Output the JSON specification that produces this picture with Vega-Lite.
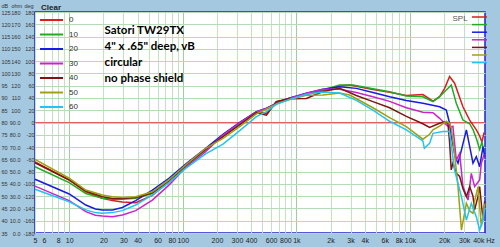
{
"$schema": "https://vega.github.io/schema/vega-lite/v6.json",
"width": 450, "height": 221,
"autosize": {"type": "none"},
"padding": {"left": 35, "top": 12, "right": 15, "bottom": 14},
"background": "#a5c8e1",
"config": {"view": {"fill": "white", "stroke": "#2020d0", "strokeWidth": 1.5}, "font": "Liberation Sans"},
"title": {"text": "Clear", "anchor": "start", "orient": "top", "offset": -9, "fontSize": 8, "fontWeight": "bold", "color": "#222222", "dx": 40},
"datasets": {
"ref": [{"phase0": 80}],
"note": [{"txt": "Satori TW29TX\n4\" x .65\" deep, vB\ncircular\nno phase shield"}],
"curves": [
{"s":"0","f":5,"db":64.0},{"s":"0","f":10,"db":56.6},{"s":"0","f":14,"db":51.8},{"s":"0","f":19.6,"db":49.1},{"s":"0","f":24,"db":48.2},{"s":"0","f":29.4,"db":47.6},{"s":"0","f":38.5,"db":47.3},{"s":"0","f":54,"db":50.3},{"s":"0","f":75.5,"db":55.9},{"s":"0","f":106,"db":62.3},{"s":"0","f":159,"db":68.8},{"s":"0","f":226,"db":75.0},{"s":"0","f":317,"db":79.7},{"s":"0","f":445,"db":84.4},{"s":"0","f":545,"db":83.7},{"s":"0","f":667,"db":88.5},{"s":"0","f":873,"db":89.9},{"s":"0","f":1224,"db":91.4},{"s":"0","f":1715,"db":93.0},{"s":"0","f":2404,"db":94.9},{"s":"0","f":2945,"db":95.3},{"s":"0","f":4723,"db":93.4},{"s":"0","f":6625,"db":92.3},{"s":"0","f":9295,"db":91.0},{"s":"0","f":13000,"db":91.4},{"s":"0","f":15950,"db":88.7},{"s":"0","f":18250,"db":90.5},{"s":"0","f":20200,"db":93.9},{"s":"0","f":22340,"db":98.7},{"s":"0","f":24730,"db":96.0},{"s":"0","f":29280,"db":86.4},{"s":"0","f":33560,"db":81.0},{"s":"0","f":35880,"db":79.0},{"s":"0","f":38440,"db":77.0},{"s":"0","f":41100,"db":74.5},{"s":"0","f":43000,"db":72.0},{"s":"0","f":45000,"db":76.0},
{"s":"10","f":5,"db":62.0},{"s":"10","f":10,"db":55.5},{"s":"10","f":14,"db":51.1},{"s":"10","f":19.6,"db":49.1},{"s":"10","f":24,"db":48.7},{"s":"10","f":29.4,"db":48.7},{"s":"10","f":38.5,"db":49.1},{"s":"10","f":54,"db":51.1},{"s":"10","f":75.5,"db":55.9},{"s":"10","f":106,"db":62.3},{"s":"10","f":159,"db":68.8},{"s":"10","f":226,"db":74.5},{"s":"10","f":317,"db":79.4},{"s":"10","f":445,"db":84.0},{"s":"10","f":545,"db":85.6},{"s":"10","f":667,"db":87.8},{"s":"10","f":873,"db":89.7},{"s":"10","f":1224,"db":91.6},{"s":"10","f":1715,"db":93.2},{"s":"10","f":2404,"db":95.3},{"s":"10","f":3148,"db":95.3},{"s":"10","f":4723,"db":93.7},{"s":"10","f":6625,"db":92.5},{"s":"10","f":9295,"db":90.8},{"s":"10","f":13000,"db":90.5},{"s":"10","f":15950,"db":88.5},{"s":"10","f":18250,"db":90.5},{"s":"10","f":20900,"db":93.2},{"s":"10","f":23120,"db":95.3},{"s":"10","f":25590,"db":87.8},{"s":"10","f":29280,"db":81.0},{"s":"10","f":33560,"db":79.5},{"s":"10","f":36000,"db":77.0},{"s":"10","f":38440,"db":73.5},{"s":"10","f":41100,"db":69.0},{"s":"10","f":43000,"db":72.0},{"s":"10","f":45000,"db":68.0},
{"s":"20","f":5,"db":56.9},{"s":"20","f":10,"db":50.9},{"s":"20","f":14,"db":46.4},{"s":"20","f":17,"db":44.8},{"s":"20","f":19.6,"db":44.4},{"s":"20","f":24,"db":44.4},{"s":"20","f":29.4,"db":45.4},{"s":"20","f":38.5,"db":48.2},{"s":"20","f":54,"db":52.5},{"s":"20","f":75.5,"db":57.3},{"s":"20","f":106,"db":63.1},{"s":"20","f":159,"db":69.5},{"s":"20","f":226,"db":75.2},{"s":"20","f":317,"db":80.1},{"s":"20","f":445,"db":84.4},{"s":"20","f":545,"db":85.8},{"s":"20","f":667,"db":87.8},{"s":"20","f":873,"db":90.0},{"s":"20","f":1224,"db":91.9},{"s":"20","f":1715,"db":93.5},{"s":"20","f":2404,"db":94.6},{"s":"20","f":3373,"db":93.9},{"s":"20","f":4723,"db":92.2},{"s":"20","f":6625,"db":90.5},{"s":"20","f":9295,"db":89.0},{"s":"20","f":13000,"db":87.8},{"s":"20","f":18250,"db":86.4},{"s":"20","f":20900,"db":85.1},{"s":"20","f":22340,"db":79.7},{"s":"20","f":23120,"db":74.2},{"s":"20","f":23920,"db":71.0},{"s":"20","f":25000,"db":66.0},{"s":"20","f":26500,"db":63.4},{"s":"20","f":28400,"db":68.8},{"s":"20","f":31400,"db":77.0},{"s":"20","f":33600,"db":70.2},{"s":"20","f":35900,"db":63.4},{"s":"20","f":38400,"db":66.1},{"s":"20","f":41100,"db":62.0},{"s":"20","f":44000,"db":70.2},{"s":"20","f":45500,"db":66.0},
{"s":"30","f":5,"db":54.1},{"s":"30","f":10,"db":48.2},{"s":"30","f":14,"db":43.7},{"s":"30","f":17,"db":42.2},{"s":"30","f":19.6,"db":41.9},{"s":"30","f":24,"db":41.6},{"s":"30","f":29.4,"db":42.3},{"s":"30","f":38.5,"db":44.1},{"s":"30","f":54,"db":48.4},{"s":"30","f":75.5,"db":54.5},{"s":"30","f":106,"db":61.7},{"s":"30","f":159,"db":68.1},{"s":"30","f":226,"db":74.9},{"s":"30","f":317,"db":79.9},{"s":"30","f":445,"db":84.3},{"s":"30","f":545,"db":85.7},{"s":"30","f":667,"db":87.8},{"s":"30","f":873,"db":89.8},{"s":"30","f":1224,"db":91.9},{"s":"30","f":1715,"db":93.5},{"s":"30","f":2404,"db":93.5},{"s":"30","f":3373,"db":92.2},{"s":"30","f":4723,"db":90.5},{"s":"30","f":6625,"db":88.6},{"s":"30","f":9295,"db":86.0},{"s":"30","f":13000,"db":84.2},{"s":"30","f":15950,"db":84.0},{"s":"30","f":18250,"db":81.7},{"s":"30","f":20900,"db":79.0},{"s":"30","f":22340,"db":78.0},{"s":"30","f":23900,"db":78.5},{"s":"30","f":25600,"db":64.7},{"s":"30","f":27400,"db":67.4},{"s":"30","f":29300,"db":53.9},{"s":"30","f":32500,"db":48.4},{"s":"30","f":34700,"db":59.3},{"s":"30","f":37100,"db":53.9},{"s":"30","f":41100,"db":56.6},{"s":"30","f":42500,"db":63.4},{"s":"30","f":45000,"db":67.0},
{"s":"40","f":5,"db":63.6},{"s":"40","f":10,"db":56.6},{"s":"40","f":14,"db":52.1},{"s":"40","f":19.6,"db":49.8},{"s":"40","f":24,"db":49.1},{"s":"40","f":29.4,"db":49.0},{"s":"40","f":38.5,"db":49.5},{"s":"40","f":54,"db":51.4},{"s":"40","f":75.5,"db":56.3},{"s":"40","f":106,"db":62.5},{"s":"40","f":159,"db":69.1},{"s":"40","f":226,"db":74.2},{"s":"40","f":317,"db":79.0},{"s":"40","f":445,"db":84.0},{"s":"40","f":545,"db":83.0},{"s":"40","f":667,"db":88.5},{"s":"40","f":873,"db":89.7},{"s":"40","f":1224,"db":89.8},{"s":"40","f":1715,"db":92.6},{"s":"40","f":2404,"db":93.9},{"s":"40","f":3373,"db":91.0},{"s":"40","f":4723,"db":88.5},{"s":"40","f":6625,"db":86.0},{"s":"40","f":9295,"db":82.5},{"s":"40","f":13000,"db":79.5},{"s":"40","f":14900,"db":78.0},{"s":"40","f":18250,"db":79.7},{"s":"40","f":20200,"db":80.3},{"s":"40","f":21600,"db":79.7},{"s":"40","f":22340,"db":72.0},{"s":"40","f":23100,"db":60.7},{"s":"40","f":23900,"db":63.4},{"s":"40","f":25600,"db":59.3},{"s":"40","f":27400,"db":58.0},{"s":"40","f":29300,"db":53.0},{"s":"40","f":31400,"db":49.8},{"s":"40","f":33600,"db":53.9},{"s":"40","f":35900,"db":50.0},{"s":"40","f":37100,"db":44.4},{"s":"40","f":39800,"db":50.0},{"s":"40","f":41100,"db":53.9},{"s":"40","f":44000,"db":40.3},{"s":"40","f":45500,"db":48.0},
{"s":"50","f":5,"db":65.0},{"s":"50","f":10,"db":57.3},{"s":"50","f":14,"db":52.5},{"s":"50","f":19.6,"db":50.5},{"s":"50","f":24,"db":49.8},{"s":"50","f":29.4,"db":49.5},{"s":"50","f":38.5,"db":49.8},{"s":"50","f":54,"db":51.8},{"s":"50","f":75.5,"db":56.6},{"s":"50","f":106,"db":62.7},{"s":"50","f":159,"db":69.5},{"s":"50","f":226,"db":73.5},{"s":"50","f":317,"db":78.3},{"s":"50","f":445,"db":83.5},{"s":"50","f":545,"db":85.4},{"s":"50","f":667,"db":87.6},{"s":"50","f":873,"db":89.4},{"s":"50","f":1224,"db":91.1},{"s":"50","f":1715,"db":91.2},{"s":"50","f":2404,"db":92.0},{"s":"50","f":2945,"db":91.2},{"s":"50","f":4723,"db":86.0},{"s":"50","f":6625,"db":82.0},{"s":"50","f":9295,"db":78.3},{"s":"50","f":13000,"db":73.2},{"s":"50","f":14900,"db":75.2},{"s":"50","f":15950,"db":77.0},{"s":"50","f":18250,"db":78.5},{"s":"50","f":20900,"db":80.5},{"s":"50","f":22340,"db":79.7},{"s":"50","f":23100,"db":78.0},{"s":"50","f":24700,"db":67.4},{"s":"50","f":26500,"db":53.9},{"s":"50","f":28400,"db":36.2},{"s":"50","f":31400,"db":47.1},{"s":"50","f":33600,"db":44.0},{"s":"50","f":35900,"db":43.0},{"s":"50","f":37100,"db":48.0},{"s":"50","f":39800,"db":53.9},{"s":"50","f":42500,"db":37.6},{"s":"50","f":45500,"db":47.0},
{"s":"60","f":5,"db":52.8},{"s":"60","f":10,"db":47.7},{"s":"60","f":14,"db":44.4},{"s":"60","f":17,"db":43.3},{"s":"60","f":19.6,"db":43.0},{"s":"60","f":24,"db":43.3},{"s":"60","f":29.4,"db":44.1},{"s":"60","f":38.5,"db":46.4},{"s":"60","f":54,"db":50.5},{"s":"60","f":75.5,"db":55.5},{"s":"60","f":106,"db":61.3},{"s":"60","f":159,"db":67.2},{"s":"60","f":226,"db":71.2},{"s":"60","f":317,"db":76.7},{"s":"60","f":445,"db":82.4},{"s":"60","f":545,"db":84.4},{"s":"60","f":667,"db":87.4},{"s":"60","f":873,"db":89.4},{"s":"60","f":1224,"db":91.5},{"s":"60","f":1715,"db":92.4},{"s":"60","f":2404,"db":92.0},{"s":"60","f":3373,"db":89.0},{"s":"60","f":4723,"db":85.0},{"s":"60","f":6625,"db":80.5},{"s":"60","f":9295,"db":77.0},{"s":"60","f":13000,"db":72.5},{"s":"60","f":13400,"db":69.5},{"s":"60","f":14900,"db":71.5},{"s":"60","f":15950,"db":75.6},{"s":"60","f":19500,"db":76.3},{"s":"60","f":22300,"db":76.3},{"s":"60","f":24700,"db":60.7},{"s":"60","f":28400,"db":49.8},{"s":"60","f":31400,"db":40.3},{"s":"60","f":34700,"db":47.1},{"s":"60","f":38400,"db":41.6},{"s":"60","f":41100,"db":36.2},{"s":"60","f":44000,"db":40.3},{"s":"60","f":45500,"db":45.0}
]},
"layer": [
{"data": {"name": "ref"},
 "mark": {"type": "rule", "color": "#e06060", "strokeWidth": 1},
 "encoding": {"y": {"field": "phase0", "type": "quantitative", "scale": {"domain": [35, 125], "nice": false, "zero": false},
   "axis": {"orient": "left", "values": [35,40,45,50,55,60,65,70,75,80,85,90,95,100,105,110,115,120,125], "labelExpr": "(datum.value-80)*4 + ''", "title": "deg", "titleAngle": 0, "titleX": -11, "titleY": -7, "titleAlign": "left", "titleBaseline": "middle", "titleFontSize": 5.5, "titleFontWeight": "normal", "titleColor": "#333333", "labelAlign": "right", "labelBaseline": "middle", "labelPadding": 1, "ticks": false, "tickSize": 0, "domain": false, "grid": false, "labelFontSize": 5.5, "labelColor": "#333333", "labelOverlap": false, "labelBound": false, "labelFlush": false}}}},
{"data": {"name": "curves"},
 "mark": {"type": "line", "strokeWidth": 1.5},
 "encoding": {
  "x": {"field": "f", "type": "quantitative", "scale": {"type": "log", "domain": [5, 45800], "nice": false},
   "axis": {"values": [5,6,7,8,9,10,20,30,40,50,60,70,80,90,100,200,300,400,500,600,700,800,900,1000,2000,3000,4000,5000,6000,7000,8000,9000,10000,20000,30000,40000],
     "labelExpr": "indexof([7,9,50,70,90,500,700,900,5000,7000,9000], datum.value) >= 0 ? '' : (datum.value >= 1000 ? (datum.value/1000) + 'k' : datum.value + '')",
     "title": "Hz", "titleX": 455, "titleY": 3, "titleAlign": "center", "titleBaseline": "top", "titleFontSize": 7, "titleFontWeight": "normal", "titleColor": "#222222",
     "ticks": false, "tickSize": 0, "domain": false, "labelFontSize": 7, "labelPadding": 3, "labelColor": "#222222", "labelFlush": false, "labelOverlap": false, "labelBound": false,
     "grid": true, "gridColor": {"condition": {"test": "indexof([10,100,1000,10000], datum.value) >= 0", "value": "#9ccf9c"}, "value": "#c2e3c2"}, "gridWidth": 1}},
  "y": {"field": "db", "type": "quantitative", "scale": {"domain": [35, 125], "nice": false, "zero": false},
   "axis": {"orient": "left", "values": [35,40,45,50,55,60,65,70,75,80,85,90,95,100,105,110,115,120,125], "title": "dB", "titleAngle": 0, "titleX": -34, "titleY": -7, "titleAlign": "left", "titleBaseline": "middle", "titleFontSize": 5.5, "titleFontWeight": "normal", "titleColor": "#333333", "labelAlign": "left", "labelBaseline": "middle", "labelPadding": 34, "ticks": false, "tickSize": 0, "domain": false, "labelFontSize": 5.5, "labelColor": "#333333", "labelOverlap": false, "labelBound": false, "labelFlush": false, "grid": true, "gridColor": "#b5dcb5", "gridWidth": 1}},
  "color": {"field": "s", "type": "nominal", "scale": {"domain": ["0","10","20","30","40","50","60"], "range": ["#dd1c1c","#22aa22","#1a1ae6","#cc22cc","#801414","#a0a010","#22c4f2"]},
   "legend": {"title": null, "orient": "none", "legendX": 10.5, "legendY": 2, "symbolType": "M-2.3,0H2.3", "symbolSize": 100, "symbolStrokeWidth": 2, "rowPadding": 4.5, "labelFontSize": 8, "labelColor": "#333333", "labelOffset": 11.5, "padding": 0}}
 }},
{"data": {"name": "note"},
 "mark": {"type": "text", "align": "left", "baseline": "top", "lineBreak": "\n", "lineHeight": 16, "font": "Lato", "fontWeight": "bold", "fontSize": 11.5, "color": "#000000"},
 "encoding": {"x": {"datum": 20.5, "type": "quantitative"}, "y": {"datum": 119.7, "type": "quantitative", "axis": null}, "text": {"field": "txt"}}},
{"data": {"name": "curves"},
 "transform": [{"filter": "datum.db < 0"}, {"calculate": "'spl' + datum.s", "as": "spl"}],
 "mark": {"type": "line", "strokeWidth": 1.5},
 "encoding": {
  "x": {"field": "f", "type": "quantitative"},
  "y": {"field": "db", "type": "quantitative",
   "axis": {"orient": "left", "values": [35,40,45,50,55,60,65,70,75,80,85,90,95,100,105,110,115,120,125], "labelExpr": "datum.value >= 85 ? format((datum.value-35)*2, 'd') : format((datum.value-35)*2, '.1f')", "title": "ohm", "titleAngle": 0, "titleX": -24, "titleY": -7, "titleAlign": "left", "titleBaseline": "middle", "titleFontSize": 5.5, "titleFontWeight": "normal", "titleColor": "#333333", "labelAlign": "right", "labelBaseline": "middle", "labelPadding": 15, "ticks": false, "tickSize": 0, "domain": false, "grid": false, "labelFontSize": 5.5, "labelColor": "#333333", "labelOverlap": false, "labelBound": false, "labelFlush": false}},
  "stroke": {"field": "spl", "type": "nominal", "scale": {"domain": ["spl0","spl10","spl20","spl30","spl40","spl50","spl60"], "range": ["#dd1c1c","#22aa22","#1a1ae6","#cc22cc","#801414","#a0a010","#22c4f2"]},
   "legend": {"title": "SPL", "titleOrient": "left", "titleAnchor": "start", "titleBaseline": "top", "orient": "none", "legendX": 417.5, "legendY": 3, "symbolType": "M-7.5,0H7.5", "symbolSize": 4, "symbolStrokeWidth": 1.5, "rowPadding": 1.6, "labelExpr": "'.'", "labelColor": "transparent", "labelFontSize": 2, "labelOffset": 0, "titleFontSize": 8, "titleColor": "#555555", "titleFontWeight": "normal", "titlePadding": 9, "padding": 0}}
 }}
],
"resolve": {"axis": {"y": "independent"}}
}
